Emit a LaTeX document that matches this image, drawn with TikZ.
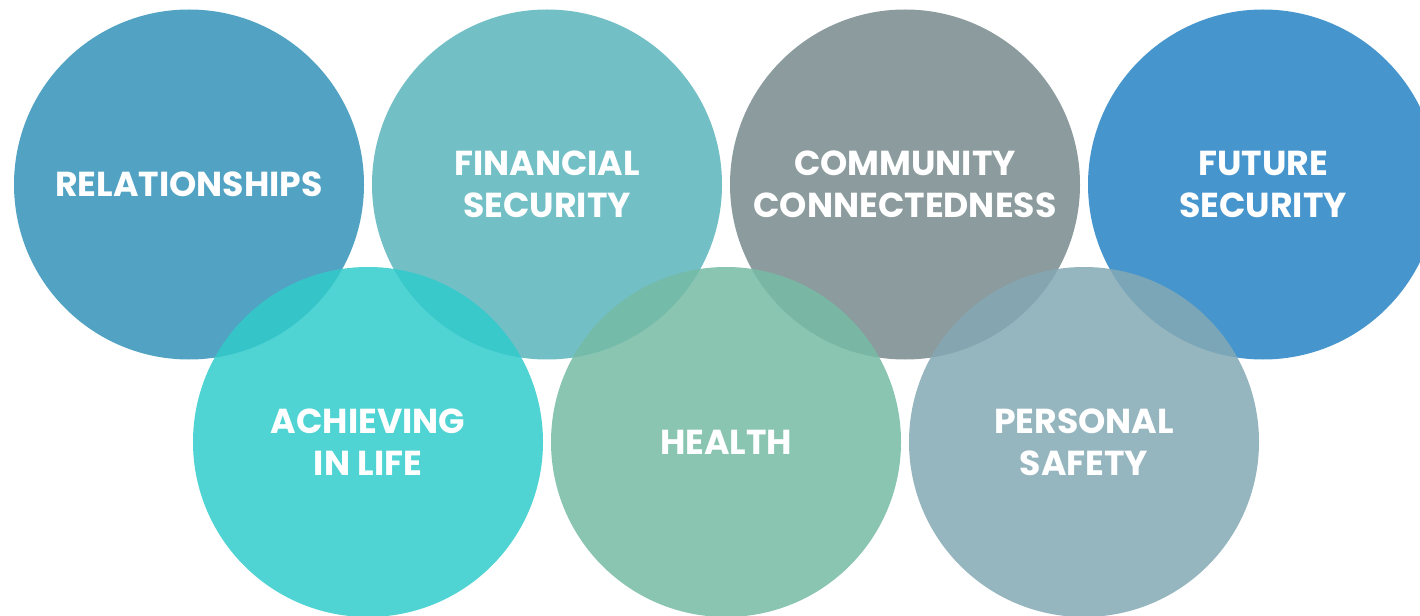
\documentclass[tikz,border=0pt]{standalone}
\usepackage{fontspec}
\setmainfont{Poppins}
\begin{document}
\begin{tikzpicture}[x=0.75pt,y=0.75pt,
  bubble/.style={circle, inner sep=0pt, minimum size=262.5pt, text=white,
    align=center, font=\fontsize{26}{31.5}\selectfont\bfseries},
  lower/.style={bubble, fill opacity=0.85, text opacity=1}]
\definecolor{cRel}{RGB}{82,163,195}
\definecolor{cFin}{RGB}{114,191,198}
\definecolor{cCom}{RGB}{140,155,157}
\definecolor{cFut}{RGB}{71,149,205}
\definecolor{cAch}{RGB}{49,203,203}
\definecolor{cHea}{RGB}{118,187,165}
\definecolor{cPer}{RGB}{132,169,180}
\useasboundingbox (0,0) rectangle (1420,615);
\clip (0,0) rectangle (1420,615);
% upper row
\node[bubble, fill=cRel] (rel) at (189,430.5) {RELATIONSHIPS};
\node[bubble, fill=cFin] (fin) at (547,430.5) {FINANCIAL\\SECURITY};
\node[bubble, fill=cCom] (com) at (905,430.5) {COMMUNITY\\CONNECTEDNESS};
\node[bubble, fill=cFut] (fut) at (1263,430.5) {FUTURE\\SECURITY};
% lower row, translucent over the upper one
\node[lower, fill=cAch] (ach) at (368,173) {ACHIEVING\\IN LIFE};
\node[lower, fill=cHea] (hea) at (726,173) {HEALTH};
\node[lower, fill=cPer] (per) at (1084,173) {PERSONAL\\SAFETY};
\end{tikzpicture}
\end{document}
